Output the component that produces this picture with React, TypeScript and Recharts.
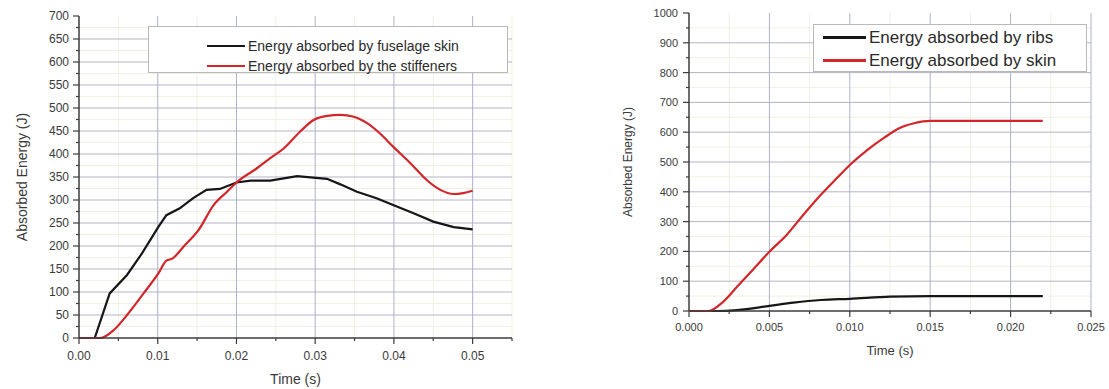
import React from "react";
import {
  Legend,
  Line,
  LineChart,
  ReferenceLine,
  XAxis,
  YAxis,
} from "recharts";

const FONT = '"Liberation Sans", Arial, Helvetica, sans-serif';
const BLACK = "#161616";
const RED = "#d3262a";
const AXIS = "#3c3c3c";
const TEXT = "#3a3a3a";

// Left panel: fuselage skin vs stiffeners
const FUSELAGE_T = [
  0, 0.002, 0.0039, 0.0061, 0.008, 0.0101, 0.0111, 0.0128, 0.0145, 0.0162,
  0.0179, 0.02, 0.0218, 0.0243, 0.026, 0.0277, 0.0294, 0.0315, 0.0332, 0.0353,
  0.0378, 0.0399, 0.0425, 0.045, 0.0476, 0.05,
];
const FUSELAGE_E = [
  0, 0, 97, 137, 184, 242, 267, 282, 304, 322, 324, 338, 342, 342, 347, 352,
  349, 346, 334, 318, 304, 289, 271, 253, 241, 236,
];
const STIFF_T = [
  0, 0.0027, 0.0044, 0.0061, 0.0082, 0.0101, 0.0111, 0.0119, 0.0133, 0.0152,
  0.0171, 0.0188, 0.02, 0.0226, 0.0243, 0.026, 0.0281, 0.0298, 0.0315, 0.0332,
  0.0349, 0.0366, 0.0382, 0.0399, 0.0421, 0.0442, 0.0459, 0.0476, 0.0488, 0.05,
];
const STIFF_E = [
  0, 0, 17, 50, 97, 141, 168, 173, 199, 235, 289, 318, 338, 369, 391, 412, 449,
  474, 483, 485, 481, 467, 445, 416, 380, 343, 322, 313, 315, 320,
];
const LEFT_X_MAJOR = [0, 0.01, 0.02, 0.03, 0.04, 0.05];
const LEFT_X_MINOR = [0.005, 0.015, 0.025, 0.035, 0.045, 0.055];
const LEFT_Y_MAJOR = [
  0, 50, 100, 150, 200, 250, 300, 350, 400, 450, 500, 550, 600, 650, 700,
];

// Right panel: ribs vs skin
const RIBS_T = [0, 0.0017, 0.003, 0.005, 0.0065, 0.0082, 0.01, 0.0125, 0.015, 0.022];
const RIBS_E = [0, 0, 3, 17, 28, 37, 41, 48, 50, 50];
const SKIN_T = [
  0, 0.0012, 0.0021, 0.003, 0.004, 0.005, 0.0061, 0.0071, 0.0082, 0.0092, 0.01,
  0.0111, 0.0121, 0.0131, 0.014, 0.015, 0.022,
];
const SKIN_E = [
  0, 0, 30, 82, 140, 199, 257, 322, 390, 446, 490, 541, 580, 614, 630, 638, 638,
];
const RIGHT_X_MAJOR = [0, 0.005, 0.01, 0.015, 0.02, 0.025];
const RIGHT_X_MINOR = [0.0025, 0.0075, 0.0125, 0.0175, 0.0225];
const RIGHT_Y_MAJOR = [0, 100, 200, 300, 400, 500, 600, 700, 800, 900, 1000];

const zip = (ts: number[], es: number[]) => ts.map((t, i) => ({ t, e: es[i] }));
const mids = (list: number[]) => list.slice(1).map((v, i) => (v + list[i]) / 2);
const isIn = (v: number, list: number[]) => list.some((m) => Math.abs(m - v) < 1e-9);

type Side = "bottom" | "top" | "left" | "right";

function makeTick(
  side: Side,
  majors: number[],
  fontSize: number,
  gap: number,
  fmt?: (v: number) => string
) {
  return (props: any) => {
    const { x, y, payload } = props;
    const v = payload.value;
    const major = isIn(v, majors);
    const len = major ? 6 : 3;
    let line: React.ReactNode = null;
    let label: React.ReactNode = null;
    if (side === "bottom") {
      line = <line x1={x} x2={x} y1={y} y2={y + len} />;
      if (major && fmt)
        label = (
          <text x={x} y={y + gap} textAnchor="middle" dominantBaseline="central">
            {fmt(v)}
          </text>
        );
    } else if (side === "top") {
      line = <line x1={x} x2={x} y1={y} y2={y - len} />;
    } else if (side === "left") {
      line = <line x1={x} x2={x - len} y1={y} y2={y} />;
      if (major && fmt)
        label = (
          <text x={x - gap} y={y} textAnchor="end" dominantBaseline="central">
            {fmt(v)}
          </text>
        );
    } else {
      line = <line x1={x} x2={x + len} y1={y} y2={y} />;
    }
    return (
      <g>
        <g stroke={AXIS} strokeWidth={1.2}>{line}</g>
        <g fill={TEXT} fontSize={fontSize} fontFamily={FONT}>{label}</g>
      </g>
    );
  };
}

type Series = { name: string; color: string; data: { t: number; e: number }[]; curve: "linear" | "monotone" };

type LegendCfg = {
  left: number;
  top: number;
  width: number;
  height: number;
  fontSize: number;
  lineLen: number;
  padLeft: number;
  padTop: number;
  rowH: number;
};

function LegendBox({ items, cfg }: { items: Series[]; cfg: LegendCfg }) {
  return (
    <div
      style={{
        boxSizing: "border-box",
        width: cfg.width,
        height: cfg.height,
        border: "1px solid #b9b9b9",
        background: "#ffffff",
        paddingLeft: cfg.padLeft,
        paddingTop: cfg.padTop,
        fontFamily: FONT,
        fontSize: cfg.fontSize,
        color: "#2a2a2a",
        whiteSpace: "nowrap",
      }}
    >
      {items.map((it) => (
        <div key={it.name} style={{ display: "flex", alignItems: "center", height: cfg.rowH }}>
          <span
            style={{ display: "inline-block", width: cfg.lineLen, height: 2.5, background: it.color, marginRight: 3 }}
          />
          <span>{it.name}</span>
        </div>
      ))}
    </div>
  );
}

type PanelProps = {
  left: number;
  width: number;
  height: number;
  margin: { top: number; right: number; bottom: number; left: number };
  yAxisWidth: number;
  xAxisHeight: number;
  xMajor: number[];
  xMinor: number[];
  xFmt: (v: number) => string;
  yMajor: number[];
  series: Series[];
  tickFont: number;
  xGap: number;
  yGap: number;
  xTitleDy: number;
  yTitleX: number;
  titleFont: number;
  yTitleFont: number;
  legend: LegendCfg;
};

function Panel(p: PanelProps) {
  const xDomain: [number, number] = [p.xMajor[0], Math.max(...p.xMajor, ...p.xMinor)];
  const yDomain: [number, number] = [p.yMajor[0], p.yMajor[p.yMajor.length - 1]];
  const xTicks = [...p.xMajor, ...p.xMinor].sort((a, b) => a - b);
  const yMinor = mids(p.yMajor);
  const yTicks = [...p.yMajor, ...yMinor].sort((a, b) => a - b);

  const XTitle = (props: any) => {
    const vb = props.viewBox;
    return (
      <text
        x={vb.x + vb.width / 2}
        y={vb.y + p.xTitleDy}
        textAnchor="middle"
        dominantBaseline="central"
        fill={TEXT}
        fontSize={p.titleFont}
        fontFamily={FONT}
      >
        Time (s)
      </text>
    );
  };
  const YTitle = (props: any) => {
    const vb = props.viewBox;
    const cy = vb.y + vb.height / 2;
    return (
      <text
        x={p.yTitleX}
        y={cy}
        transform={`rotate(-90 ${p.yTitleX} ${cy})`}
        textAnchor="middle"
        dominantBaseline="central"
        fill={TEXT}
        fontSize={p.yTitleFont}
        fontFamily={FONT}
      >
        Absorbed Energy (J)
      </text>
    );
  };

  return (
    <div style={{ position: "absolute", left: p.left, top: 0 }}>
      <LineChart width={p.width} height={p.height} margin={p.margin}>
        {yMinor.map((v) => (
          <ReferenceLine key={`ym${v}`} y={v} stroke="#f1f0e2" strokeWidth={1} />
        ))}
        {p.xMinor.map((v) => (
          <ReferenceLine key={`xm${v}`} x={v} stroke="#f1f0e2" strokeWidth={1} />
        ))}
        {p.yMajor.slice(1, -1).map((v) => (
          <ReferenceLine key={`y${v}`} y={v} stroke="#b3b5c4" strokeWidth={1} />
        ))}
        {p.xMajor.slice(1).map((v) => (
          <ReferenceLine key={`x${v}`} x={v} stroke="#aeb1cc" strokeWidth={1} />
        ))}
        <XAxis
          type="number"
          dataKey="t"
          domain={xDomain}
          ticks={xTicks}
          interval={0}
          height={p.xAxisHeight}
          tickSize={0}
          tickMargin={0}
          tickLine={false}
          axisLine={{ stroke: AXIS, strokeWidth: 1.5 }}
          tick={makeTick("bottom", p.xMajor, p.tickFont, p.xGap, p.xFmt)}
          label={<XTitle />}
        />
        <XAxis
          xAxisId="top"
          orientation="top"
          type="number"
          domain={xDomain}
          ticks={xTicks}
          interval={0}
          height={0}
          tickSize={0}
          tickMargin={0}
          tickLine={false}
          axisLine={{ stroke: AXIS, strokeWidth: 1.5 }}
          tick={makeTick("top", p.xMajor, p.tickFont, 0)}
        />
        <YAxis
          type="number"
          dataKey="e"
          domain={yDomain}
          ticks={yTicks}
          interval={0}
          width={p.yAxisWidth}
          tickSize={0}
          tickMargin={0}
          tickLine={false}
          axisLine={{ stroke: AXIS, strokeWidth: 1.5 }}
          tick={makeTick("left", p.yMajor, p.tickFont, p.yGap, (v) => String(v))}
          label={<YTitle />}
        />
        <YAxis
          yAxisId="right"
          orientation="right"
          type="number"
          domain={yDomain}
          ticks={yTicks}
          interval={0}
          width={0}
          tickSize={0}
          tickMargin={0}
          tickLine={false}
          axisLine={{ stroke: AXIS, strokeWidth: 1.5 }}
          tick={makeTick("right", p.yMajor, p.tickFont, 0)}
        />
        {p.series.map((s) => (
          <Line
            key={s.name}
            data={s.data}
            dataKey="e"
            name={s.name}
            type={s.curve}
            stroke={s.color}
            strokeWidth={2.2}
            dot={false}
            activeDot={false}
            isAnimationActive={false}
          />
        ))}
        <Legend
          layout="vertical"
          verticalAlign="middle"
          align="center"
          wrapperStyle={{ left: p.legend.left, top: p.legend.top, width: p.legend.width, height: p.legend.height }}
          content={() => <LegendBox items={p.series} cfg={p.legend} />}
        />
      </LineChart>
    </div>
  );
}

const LEFT_SERIES: Series[] = [
  { name: "Energy absorbed by fuselage skin", color: BLACK, data: zip(FUSELAGE_T, FUSELAGE_E), curve: "linear" },
  { name: "Energy absorbed by the stiffeners", color: RED, data: zip(STIFF_T, STIFF_E), curve: "monotone" },
];

const RIGHT_SERIES: Series[] = [
  { name: "Energy absorbed by ribs", color: BLACK, data: zip(RIBS_T, RIBS_E), curve: "monotone" },
  { name: "Energy absorbed by skin", color: RED, data: zip(SKIN_T, SKIN_E), curve: "monotone" },
];

export default function App() {
  return (
    <div
      style={{
        position: "absolute",
        left: 0,
        top: 0,
        width: 1109,
        height: 389,
        background: "#ffffff",
        overflow: "hidden",
      }}
    >
      <Panel
        left={0}
        width={530}
        height={389}
        margin={{ top: 16, right: 18, bottom: 0, left: 0 }}
        yAxisWidth={79}
        xAxisHeight={51}
        xMajor={LEFT_X_MAJOR}
        xMinor={LEFT_X_MINOR}
        xFmt={(v) => v.toFixed(2)}
        yMajor={LEFT_Y_MAJOR}
        series={LEFT_SERIES}
        tickFont={12}
        xGap={18}
        yGap={10}
        xTitleDy={41}
        yTitleX={22}
        titleFont={14}
        yTitleFont={14}
        legend={{ left: 148, top: 26, width: 360, height: 47, fontSize: 14, lineLen: 38, padLeft: 58, padTop: 9, rowH: 20 }}
      />
      <Panel
        left={600}
        width={509}
        height={389}
        margin={{ top: 13, right: 18, bottom: 38, left: 0 }}
        yAxisWidth={89}
        xAxisHeight={40}
        xMajor={RIGHT_X_MAJOR}
        xMinor={RIGHT_X_MINOR}
        xFmt={(v) => v.toFixed(3)}
        yMajor={RIGHT_Y_MAJOR}
        series={RIGHT_SERIES}
        tickFont={11}
        xGap={16}
        yGap={11}
        xTitleDy={39}
        yTitleX={28}
        titleFont={13}
        yTitleFont={12}
        legend={{ left: 213, top: 24, width: 274, height: 48, fontSize: 17, lineLen: 43, padLeft: 9, padTop: 1, rowH: 23 }}
      />
    </div>
  );
}
